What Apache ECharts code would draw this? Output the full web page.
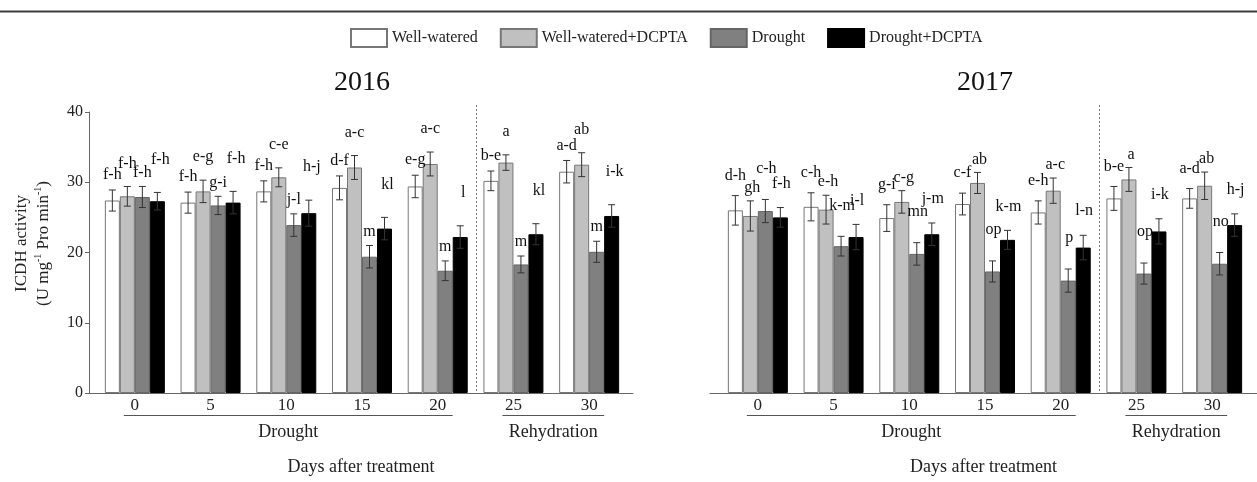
<!DOCTYPE html>
<html><head><meta charset="utf-8">
<script src="https://cdn.jsdelivr.net/npm/echarts@6/dist/echarts.min.js"></script>
<style>html,body{margin:0;padding:0;background:#fff}#c{width:1257px;height:482px}</style>
</head><body><div id="c"></div>
<script>
// ---------- data ----------
const days = ['0', '5', '10', '15', '20', '25', '30'];
const treatments = ['Well-watered', 'Well-watered+DCPTA', 'Drought', 'Drought+DCPTA'];
const years = ['2016', '2017'];
const phases = [
  { name: 'Drought', from: '0', to: '20' },
  { name: 'Rehydration', from: '25', to: '30' }
];

// 2016 means / SD / letters
const ww2016 = [27.4, 27.1, 28.7, 29.2, 29.4, 30.2, 31.5];
const wwD2016 = [28.0, 28.7, 30.7, 32.1, 32.6, 32.8, 32.5];
const dr2016 = [27.9, 26.7, 23.9, 19.4, 17.4, 18.3, 20.1];
const drD2016 = [27.3, 27.1, 25.6, 23.4, 22.2, 22.6, 25.2];
const wwErr2016 = [1.5, 1.5, 1.5, 1.7, 1.6, 1.4, 1.6];
const wwDErr2016 = [1.4, 1.6, 1.35, 1.7, 1.7, 1.1, 1.7];
const drErr2016 = [1.5, 1.3, 1.6, 1.6, 1.4, 1.2, 1.5];
const drDErr2016 = [1.25, 1.6, 1.85, 1.6, 1.6, 1.5, 1.6];
const wwLet2016 = ['f-h', 'f-h', 'f-h', 'd-f', 'e-g', 'b-e', 'a-d'];
const wwDLet2016 = ['f-h', 'e-g', 'c-e', 'a-c', 'a-c', 'a', 'ab'];
const drLet2016 = ['f-h', 'g-i', 'j-l', 'm', 'm', 'm', 'm'];
const drDLet2016 = ['f-h', 'f-h', 'h-j', 'kl', 'l', 'kl', 'i-k'];

// 2017 means / SD / letters
const ww2017 = [26.0, 26.5, 24.9, 26.9, 25.7, 27.7, 27.7];
const wwD2017 = [25.2, 26.1, 27.2, 29.9, 28.8, 30.4, 29.5];
const dr2017 = [25.9, 20.9, 19.8, 17.3, 16.0, 17.0, 18.4];
const drD2017 = [25.0, 22.2, 22.6, 21.8, 20.7, 23.0, 23.9];
const wwErr2017 = [2.1, 2.0, 1.9, 1.55, 1.65, 1.7, 1.4];
const wwDErr2017 = [2.15, 2.05, 1.6, 1.5, 1.8, 1.7, 1.95];
const drErr2017 = [1.65, 1.4, 1.6, 1.5, 1.65, 1.5, 1.6];
const drDErr2017 = [1.4, 1.8, 1.6, 1.35, 1.75, 1.8, 1.6];
const wwLet2017 = ['d-h', 'c-h', 'g-i', 'c-f', 'e-h', 'b-e', 'a-d'];
const wwDLet2017 = ['gh', 'e-h', 'c-g', 'ab', 'a-c', 'a', 'ab'];
const drLet2017 = ['c-h', 'k-m', 'mn', 'op', 'p', 'op', 'no'];
const drDLet2017 = ['f-h', 'i-l', 'j-m', 'k-m', 'l-n', 'i-k', 'h-j'];

const yTicks = { min: 0, max: 40, interval: 10 };

// ---------- styling ----------
const FONT = 'Liberation Serif';
const BAR_W = 15;
const COLORS = ['#ffffff', '#c0c0c0', '#808080', '#000000'];
const BORDERS = ['#777777', '#777777', '#666666', '#000000'];
const LABEL_GAP = [[15, 23, 14, 33], [20, 13, 31, 24]];
const LABEL_DX = [[0, 0, 0, 3], [0, 2, 1, 1]];

const panels = [
  { means: [ww2016, wwD2016, dr2016, drD2016], errs: [wwErr2016, wwDErr2016, drErr2016, drDErr2016], letters: [wwLet2016, wwDLet2016, drLet2016, drDLet2016] },
  { means: [ww2017, wwD2017, dr2017, drD2017], errs: [wwErr2017, wwDErr2017, drErr2017, drDErr2017], letters: [wwLet2017, wwDLet2017, drLet2017, drDLet2017] }
];

const TOP = 112, H = 281;
const grids = [
  { left: 97, width: 530, top: TOP, height: H },
  { left: 720, width: 530, top: TOP, height: H },
  { left: 89, width: 544, top: TOP, height: H },
  { left: 710, width: 547, top: TOP, height: H }
];

const xAxes = [];
const yAxes = [];
for (let p = 0; p < 2; p++) {
  xAxes.push({
    gridIndex: p, type: 'category', data: days,
    axisLine: { show: false }, axisTick: { show: false },
    axisLabel: { fontFamily: FONT, fontSize: 17, color: '#222', margin: 4 }
  });
  yAxes.push({ gridIndex: p, type: 'value', min: yTicks.min, max: yTicks.max, interval: yTicks.interval, show: false });
}
for (let p = 0; p < 2; p++) {
  xAxes.push({
    gridIndex: 2 + p, type: 'category', data: days,
    axisLine: { show: true, lineStyle: { color: '#666', width: 1 } },
    axisTick: { show: false }, axisLabel: { show: false },
    name: 'Days after treatment', nameLocation: 'middle', nameGap: 65,
    nameTextStyle: { fontFamily: FONT, fontSize: 18, color: '#222' }
  });
}
yAxes.push({
  gridIndex: 2, type: 'value', min: yTicks.min, max: yTicks.max, interval: yTicks.interval,
  axisLine: { show: true, lineStyle: { color: '#666', width: 1 } },
  axisTick: { show: true, length: 4, lineStyle: { color: '#666' } },
  axisLabel: { fontFamily: FONT, fontSize: 16, color: '#222', margin: 6 },
  splitLine: { show: false },
  name: '{a|ICDH activity}\n{a|(U mg}{s|-1}{a| Pro min}{s|-1}{a|)}',
  nameLocation: 'middle', nameGap: 34, nameRotate: 90,
  nameTextStyle: {
    fontFamily: FONT, fontSize: 17, color: '#222', padding: [0, 0, 0, 18],
    rich: {
      a: { fontFamily: FONT, fontSize: 17, color: '#222', lineHeight: 22 },
      s: { fontFamily: FONT, fontSize: 10, color: '#222', lineHeight: 22, verticalAlign: 'top' }
    }
  }
});
yAxes.push({ gridIndex: 3, type: 'value', min: yTicks.min, max: yTicks.max, show: false });

const series = [];
panels.forEach((pan, p) => {
  pan.means.forEach((arr, k) => {
    series.push({
      type: 'bar', name: treatments[k], xAxisIndex: p, yAxisIndex: p,
      data: arr, barWidth: BAR_W, barGap: '0%', z: 2, silent: true,
      itemStyle: { color: COLORS[k], borderColor: BORDERS[k], borderWidth: 1 }
    });
  });
  pan.means.forEach((arr, k) => {
    const errs = pan.errs[k], lets = pan.letters[k];
    series.push({
      type: 'custom', name: 'err-' + p + '-' + k, xAxisIndex: p, yAxisIndex: p, z: 5, silent: true,
      data: arr.map((m, i) => [i, m, errs[i]]),
      encode: { x: 0, y: 1 },
      renderItem: function (params, api) {
        const i = api.value(0), m = api.value(1), e = api.value(2);
        const c = api.coord([i, m]);
        const x = c[0] + (k - 1.5) * BAR_W;
        const yT = api.coord([i, m + e])[1];
        const yB = api.coord([i, m - e])[1];
        const st = { stroke: '#333', lineWidth: 1 };
        return {
          type: 'group', children: [
            { type: 'line', shape: { x1: x, y1: yT, x2: x, y2: yB }, style: st },
            { type: 'line', shape: { x1: x - 3.5, y1: yT, x2: x + 3.5, y2: yT }, style: st },
            { type: 'line', shape: { x1: x - 3.5, y1: yB, x2: x + 3.5, y2: yB }, style: st },
            { type: 'text', style: {
                text: lets[params.dataIndex], x: x + LABEL_DX[p][k], y: yT - LABEL_GAP[p][k],
                align: 'center', verticalAlign: 'middle',
                fontFamily: FONT, fontSize: 16, fill: '#111' } }
          ]
        };
      }
    });
  });
});

const option = {
  backgroundColor: '#fff',
  animation: false,
  title: years.map((y, p) => ({
    text: y, left: grids[p].left + grids[p].width / 2, top: 69, textAlign: 'center', padding: 0,
    textStyle: { fontFamily: FONT, fontSize: 28, fontWeight: 'normal', color: '#111' }
  })),
  legend: {
    data: treatments, left: 350, top: 28, padding: 0, icon: 'rect',
    itemWidth: 36, itemHeight: 18, itemGap: 22,
    textStyle: { fontFamily: FONT, fontSize: 16, color: '#222' }
  },
  grid: grids,
  xAxis: xAxes,
  yAxis: yAxes,
  series: series
};

const chart = echarts.init(document.getElementById('c'));
chart.setOption(option);

// decorations positioned through the axes
const graphics = [
  { type: 'rect', shape: { x: 0, y: 10.5, width: 1257, height: 2 }, style: { fill: '#3c3c3c' } }
];
const y0 = chart.convertToPixel({ yAxisIndex: 2 }, 0);
for (let p = 0; p < 2; p++) {
  const px = c => chart.convertToPixel({ xAxisIndex: p }, c);
  const sepX = Math.round((px('20') + px('25')) / 2) + 0.5;
  graphics.push({ type: 'line', shape: { x1: sepX, y1: TOP - 7, x2: sepX, y2: y0 },
    style: { stroke: '#777', lineWidth: 1, lineDash: [2, 2] } });
  phases.forEach(ph => {
    const x1 = px(ph.from) - 11, x2 = px(ph.to) + 15;
    const yl = Math.round(y0 + 22) + 0.5;
    graphics.push({ type: 'line', shape: { x1: x1, y1: yl, x2: x2, y2: yl }, style: { stroke: '#555', lineWidth: 1 } });
    graphics.push({ type: 'text', style: { text: ph.name, x: (x1 + x2) / 2, y: y0 + 39,
      align: 'center', verticalAlign: 'middle', fontFamily: FONT, fontSize: 18, fill: '#222' } });
  });
}
chart.setOption({ graphic: graphics });
</script>
</body></html>
